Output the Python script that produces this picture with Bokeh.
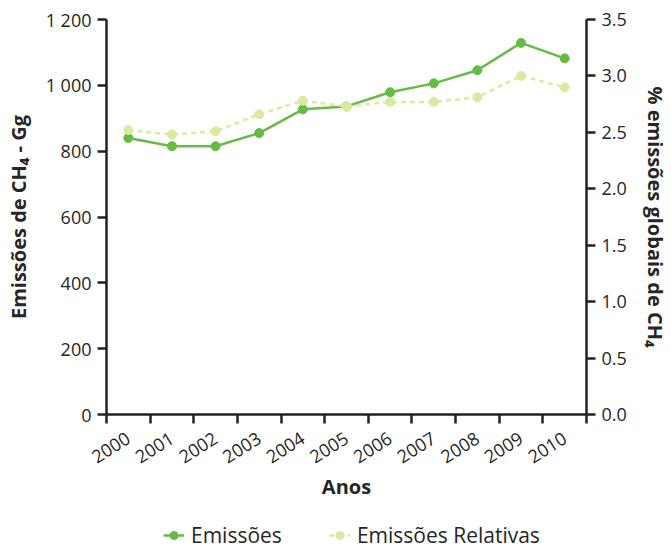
from bokeh.plotting import figure
from bokeh.layouts import column
from bokeh.models import Range1d, LinearAxis, FixedTicker, Legend, LegendItem
from bokeh.embed import file_html
from bokeh.resources import INLINE

years = [2000, 2001, 2002, 2003, 2004, 2005, 2006, 2007, 2008, 2009, 2010]
emissoes = [840, 815, 815, 855, 927, 936, 979, 1006, 1046, 1129, 1082]
relativas = [2.52, 2.48, 2.51, 2.66, 2.78, 2.73, 2.77, 2.77, 2.81, 3.00, 2.90]
left_ticks = [0, 200, 400, 600, 800, 1000, 1200]
left_labels = ["0", "200", "400", "600", "800", "1 000", "1 200"]
right_ticks = [0.0, 0.5, 1.0, 1.5, 2.0, 2.5, 3.0, 3.5]
right_labels = ["0.0", "0.5", "1.0", "1.5", "2.0", "2.5", "3.0", "3.5"]
year_bounds = [y - 0.5 for y in years] + [years[-1] + 0.5]
series_names = ["Emissões", "Emissões Relativas"]

FONT = "Open Sans"
GREEN = "#66bb44"
LIGHT = "#dce9a0"
AXIS = "#222222"
TXT = "#262626"

p = figure(width=671, height=512, output_backend="svg", toolbar_location=None,
           x_range=Range1d(year_bounds[0], year_bounds[-1]), y_range=Range1d(0, 1200),
           min_border_left=106, min_border_right=83, min_border_top=19, min_border_bottom=98,
           x_axis_type=None, y_axis_type=None)
p.outline_line_color = None
p.background_fill_color = "white"
p.border_fill_color = "white"
p.extra_y_ranges = {"rel": Range1d(0, 3.5)}

def style_axis(ax):
    ax.axis_line_color = AXIS
    ax.axis_line_width = 2.5
    ax.major_tick_line_color = AXIS
    ax.major_tick_line_width = 2.5
    ax.major_tick_out = 9
    ax.major_tick_in = 0
    ax.minor_tick_line_color = None
    ax.major_label_text_font = FONT
    ax.major_label_text_font_size = "18px"
    ax.major_label_text_color = TXT
    ax.major_label_standoff = 6
    ax.axis_label_text_font = FONT
    ax.axis_label_text_font_size = "20px"
    ax.axis_label_text_font_style = "bold"
    ax.axis_label_text_color = TXT

# left axis
yl = LinearAxis(ticker=FixedTicker(ticks=left_ticks),
                major_label_overrides={t: l for t, l in zip(left_ticks, left_labels)},
                axis_label="Emissões de CH₄ - Gg")
style_axis(yl)
yl.axis_label_standoff = 11
p.add_layout(yl, "left")

# right axis
yr = LinearAxis(y_range_name="rel", ticker=FixedTicker(ticks=right_ticks),
                major_label_overrides={t: l for t, l in zip(right_ticks, right_labels)},
                axis_label="% emissões globais de CH₄")
style_axis(yr)
yr.axis_label_standoff = 12
p.add_layout(yr, "right")

# bottom axis: labels at year centres, ticks at boundaries (minor ticks)
xb = LinearAxis(ticker=FixedTicker(ticks=years, minor_ticks=year_bounds),
                major_label_overrides={y: str(y) for y in years},
                axis_label="Anos")
style_axis(xb)
xb.major_tick_line_color = None
xb.minor_tick_line_color = AXIS
xb.minor_tick_line_width = 2.5
xb.minor_tick_out = 9
xb.minor_tick_in = 0
xb.major_label_orientation = 0.56
xb.major_label_standoff = 13
xb.axis_label_standoff = 1
p.add_layout(xb, "below")

# grid
p.ygrid.ticker = FixedTicker(ticks=left_ticks)
p.ygrid.grid_line_color = "#c8c8c8"
p.ygrid.grid_line_width = 1.2
p.xgrid.grid_line_color = None

p.line(years, emissoes, line_color=GREEN, line_width=2.5)
p.scatter(years, emissoes, size=9, fill_color=GREEN, line_color=GREEN)
p.line(years, relativas, y_range_name="rel", line_color=LIGHT, line_width=2.5, line_dash="5 4")
p.scatter(years, relativas, y_range_name="rel", size=9, fill_color=LIGHT, line_color=LIGHT)

# legend strip: a second figure whose view range lies outside the data,
# so its renderers only supply the legend keys
q = figure(width=671, height=37, output_backend="svg", toolbar_location=None,
           x_range=Range1d(0, 1), y_range=Range1d(0, 1),
           min_border_left=106, min_border_right=83, min_border_top=0, min_border_bottom=0,
           x_axis_type=None, y_axis_type=None)
q.outline_line_color = None
q.grid.visible = False
kl1 = q.line(years, emissoes, line_color=GREEN, line_width=2.5)
kc1 = q.scatter(years, emissoes, size=9, fill_color=GREEN, line_color=GREEN)
kl2 = q.line(years, relativas, line_color=LIGHT, line_width=2.5, line_dash="5 4")
kc2 = q.scatter(years, relativas, size=9, fill_color=LIGHT, line_color=LIGHT)

legend = Legend(items=[LegendItem(label=series_names[0], renderers=[kl1, kc1]),
                       LegendItem(label=series_names[1], renderers=[kl2, kc2])],
                orientation="horizontal", location=(57, 0), margin=0, padding=0,
                label_text_font=FONT, label_text_font_size="21px", label_text_color=TXT,
                glyph_width=21, glyph_height=20, spacing=47, label_standoff=7,
                border_line_color=None, background_fill_alpha=0)
q.add_layout(legend, "center")

layout = column(p, q, spacing=0)
open("out.html", "w").write(file_html(layout, INLINE))
